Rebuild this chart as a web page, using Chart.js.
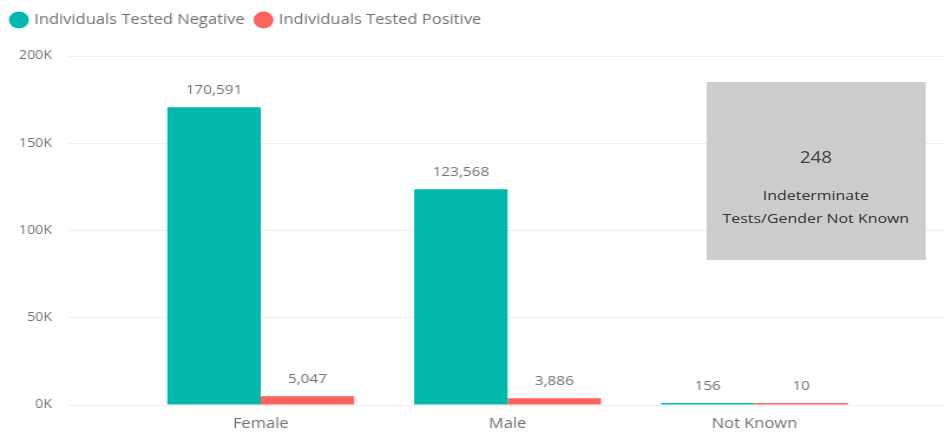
<!DOCTYPE html>
<html>
<head>
<meta charset="utf-8">
<script src="https://cdn.jsdelivr.net/npm/chart.js@4/dist/chart.umd.min.js"></script>
<style>
    html, body { margin: 0; padding: 0; background: #fff; overflow: hidden; }
    /* the source screenshot is stretched sideways, so the whole visual is too */
    #wrap {
        position: relative; width: 801px; height: 432px;
        transform: scaleX(1.1798); transform-origin: 0 0;
    }
    #card {
        position: absolute; left: 599px; top: 82px; width: 185px; height: 178px;
        background: #cccccc; color: #333; font-family: "Open Sans", sans-serif;
        text-align: center;
    }
    #card .num { font-size: 16px; line-height: 22px; margin-top: 64px; color: #444; }
    #card .txt { font-size: 13.5px; line-height: 23px; margin-top: 16px; }
</style>
</head>
<body>
<div id="wrap">
    <canvas id="chart" width="801" height="432"></canvas>
    <div id="card">
        <div class="num">248</div>
        <div class="txt">Indeterminate<br>Tests/Gender Not Known</div>
    </div>
</div>
<script>
// ── data ──
const categories = ['Female', 'Male', 'Not Known'];
const negative = [170591, 123568, 156];
const positive = [5047, 3886, 10];
const yTicks = [0, 50000, 100000, 150000, 200000];

const FONT = '"Open Sans", sans-serif';
const TEXT = '#707070';

/**
 * Value labels above each bar
 */
const valueLabels = {
    id: 'valueLabels',
    afterDatasetsDraw(chart) {
        const ctx = chart.ctx;
        ctx.save();
        ctx.font = '13px ' + FONT;
        ctx.fillStyle = TEXT;
        ctx.textAlign = 'center';
        ctx.textBaseline = 'alphabetic';
        chart.data.datasets.forEach((ds, i) => {
            chart.getDatasetMeta(i).data.forEach((bar, j) => {
                const v = ds.data[j].y;
                ctx.fillText(v.toLocaleString('en-US'), bar.x, bar.y - 13);
            });
        });
        ctx.restore();
    }
};

/**
 * Extra room under the legend
 */
const legendGap = {
    id: 'legendGap',
    beforeInit(chart) {
        const fit = chart.legend.fit;
        chart.legend.fit = function () {
            fit.call(this);
            this.height += 19;
        };
    }
};

const toPoints = arr => arr.map((v, i) => ({ x: i, y: v }));

new Chart(document.getElementById('chart'), {
    type: 'bar',
    data: {
        datasets: [
            {
                label: 'Individuals Tested Negative',
                data: toPoints(negative),
                backgroundColor: '#01B8AA',
                minBarLength: 2
            },
            {
                label: 'Individuals Tested Positive',
                data: toPoints(positive),
                backgroundColor: '#FD625E',
                minBarLength: 2
            }
        ]
    },
    options: {
        responsive: false,
        animation: false,
        layout: { padding: { left: 0, right: 1, top: 3, bottom: 0 } },
        datasets: {
            bar: { categoryPercentage: 0.757, barPercentage: 1.0 }
        },
        plugins: {
            legend: {
                position: 'top',
                align: 'start',
                labels: {
                    usePointStyle: true,
                    pointStyle: 'circle',
                    boxWidth: 12,
                    boxHeight: 12,
                    padding: 10,
                    color: TEXT,
                    font: { family: FONT, size: 14 }
                }
            },
            tooltip: { enabled: false }
        },
        scales: {
            x: {
                type: 'linear',
                offset: false,
                min: -0.779,
                max: 2.767,
                afterBuildTicks: (scale) => {
                    scale.ticks = categories.map((c, i) => ({ value: i }));
                },
                afterFit: (scale) => { scale.height = 27; },
                ticks: {
                    color: TEXT,
                    font: { family: FONT, size: 14 },
                    padding: 11,
                    maxRotation: 0,
                    callback: (v) => categories[v]
                },
                grid: { display: false, drawTicks: false },
                border: { display: false }
            },
            y: {
                min: 0,
                max: 200000,
                afterBuildTicks: (scale) => {
                    scale.ticks = yTicks.map(v => ({ value: v }));
                },
                afterFit: (scale) => { scale.width = 58; },
                ticks: {
                    color: TEXT,
                    font: { family: FONT, size: 12 },
                    padding: 14,
                    callback: (v) => (v / 1000) + 'K'
                },
                grid: { color: '#eeeeee', drawTicks: false },
                border: { display: false }
            }
        }
    },
    plugins: [valueLabels, legendGap]
});
</script>
</body>
</html>
